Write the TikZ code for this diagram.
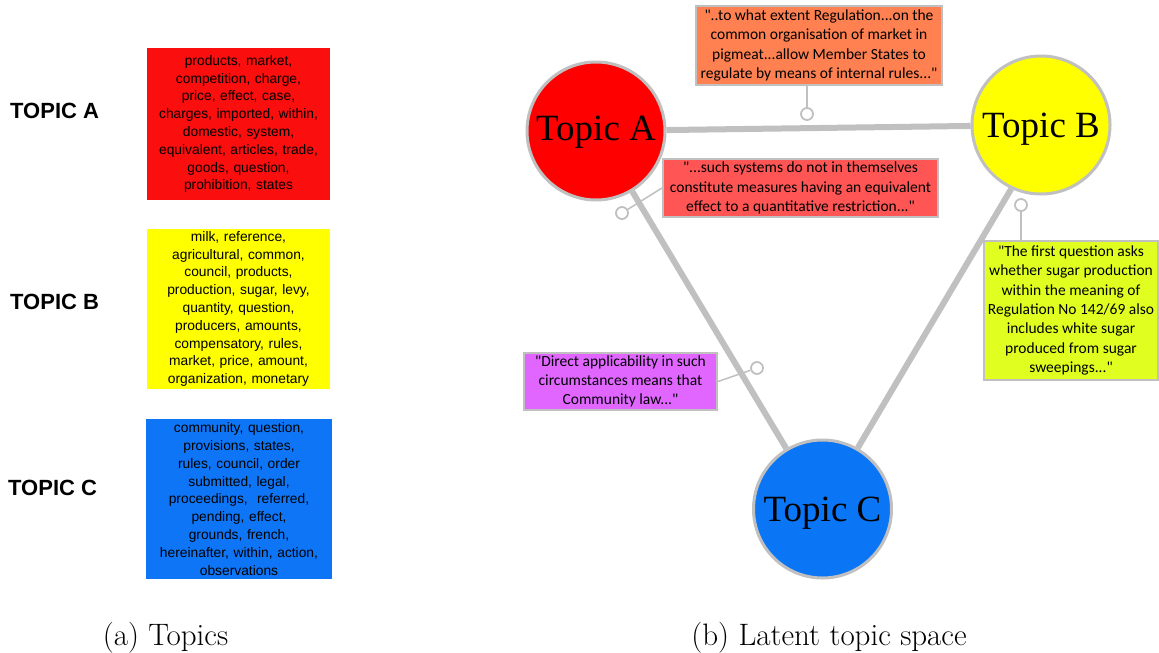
\documentclass[tikz,border=0pt]{standalone}
\usepackage{fontspec}
\usetikzlibrary{backgrounds}
\newfontfamily\arialf{Liberation Sans}
\newfontfamily\timesf{Liberation Serif}
\newfontfamily\calf{Carlito}
\definecolor{edgegray}{RGB}{192,192,192}
\definecolor{boxred}{RGB}{250,14,14}
\definecolor{boxyellow}{RGB}{255,255,0}
\definecolor{boxblue}{RGB}{14,118,246}
\definecolor{topA}{RGB}{255,0,0}
\definecolor{topB}{RGB}{255,255,0}
\definecolor{topC}{RGB}{10,117,245}
\definecolor{cOrange}{RGB}{255,128,80}
\definecolor{cRed}{RGB}{255,85,85}
\definecolor{cPurple}{RGB}{224,102,255}
\definecolor{cLime}{RGB}{224,255,32}
\begin{document}
\begin{tikzpicture}[x=1pt,y=-1pt,
  toplabel/.style={anchor=west,inner sep=0pt,font=\arialf\bfseries\fontsize{22}{24}\selectfont},
  wordbox/.style={inner sep=0pt,align=center,text width=#1,font=\arialf\fontsize{13.8}{17.8}\selectfont},
  topic/.style={circle,draw=edgegray,line width=3pt,minimum size=138pt,inner sep=0pt,text depth=0pt,font=\timesf\fontsize{37}{40}\selectfont},
  edge/.style={draw=edgegray,line width=6pt},
  callout/.style={draw=edgegray,line width=2pt,inner sep=0pt,align=center,font=\calf\fontsize{15.5}{19.3}\selectfont},
  pin/.style={draw=edgegray,line width=1.5pt},
  pindot/.style={circle,draw=edgegray,fill=white,line width=1.8pt,minimum size=12pt,inner sep=0pt},
  caption/.style={anchor=base,inner sep=0pt,font=\fontsize{31}{34}\selectfont}]
\useasboundingbox (0,0) rectangle (1159,653);

% left panel
\node[toplabel] (la) at (10,111) {TOPIC A};
\node[toplabel] (lb) at (10,302) {TOPIC B};
\node[toplabel] (lc) at (8,488) {TOPIC C};

\node[wordbox=183pt,fill=boxred,minimum height=152pt] (wa) at (238.5,124)
 {products, market,\\competition, charge,\\price, effect, case,\\charges, imported, within,\\domestic, system,\\equivalent, articles, trade,\\goods, question,\\prohibition, states};
\node[wordbox=183pt,fill=boxyellow,minimum height=160pt] (wb) at (238.5,309)
 {milk, reference,\\agricultural, common,\\council, products,\\production, sugar, levy,\\quantity, question,\\producers, amounts,\\compensatory, rules,\\market, price, amount,\\organization, monetary};
\node[wordbox=186pt,fill=boxblue,minimum height=160pt] (wc) at (239,499)
 {community, question,\\provisions, states,\\rules, council, order\\submitted, legal,\\proceedings,\ \ referred,\\pending, effect,\\grounds, french,\\hereinafter, within, action,\\observations};

% right panel: topics
\node[topic,fill=topA] (A) at (596,131) {\raisebox{5pt}{Topic A}};
\node[topic,fill=topB] (B) at (1041,125) {Topic B};
\node[topic,fill=topC] (C) at (822.5,509) {Topic C};

% callouts
\node[callout,fill=cOrange,minimum width=246pt,minimum height=79pt] (qo) at (819,45.5)
 {"..to what extent Regulation...on the\\common organisation of market in\\pigmeat...allow Member States to\\regulate by means of internal rules..."};
\node[callout,fill=cRed,minimum width=275pt,minimum height=58pt] (qr) at (800.5,188)
 {"...such systems do not in themselves\\constitute measures having an equivalent\\effect to a quantitative restriction..."};
\node[callout,fill=cPurple,minimum width=193pt,minimum height=57pt] (qp) at (620.5,381.5)
 {"Direct applicability in such\\circumstances means that\\Community law..."};
\node[callout,fill=cLime,minimum width=174pt,minimum height=139pt] (qy) at (1071,310.5)
 {"The first question asks\\whether sugar production\\within the meaning of\\Regulation No 142/69 also\\includes white sugar\\produced from sugar\\sweepings..."};

\node[pindot] (po) at (807,114) {};
\node[pindot] (pr) at (622,213) {};
\node[pindot] (pp) at (757,368) {};
\node[pindot] (py) at (1021,205) {};

\begin{scope}[on background layer]
\fill[white] (0,0) rectangle (1159,653);
\path[edge] (A) -- (B);
\path[edge] (A) -- (C);
\path[edge] (B.245) -- (C.60);
\draw[pin] (po |- qo.south) -- (po);
\draw[pin] (qr.west) -- (pr);
\draw[pin] (qp.east) -- (pp);
\draw[pin] (py |- qy.north) -- (py);
\end{scope}

% captions
\node[caption] (ca) at (165.5,645) {(a) Topics};
\node[caption] (cb) at (829,645) {(b) Latent topic space};
\end{tikzpicture}
\end{document}
